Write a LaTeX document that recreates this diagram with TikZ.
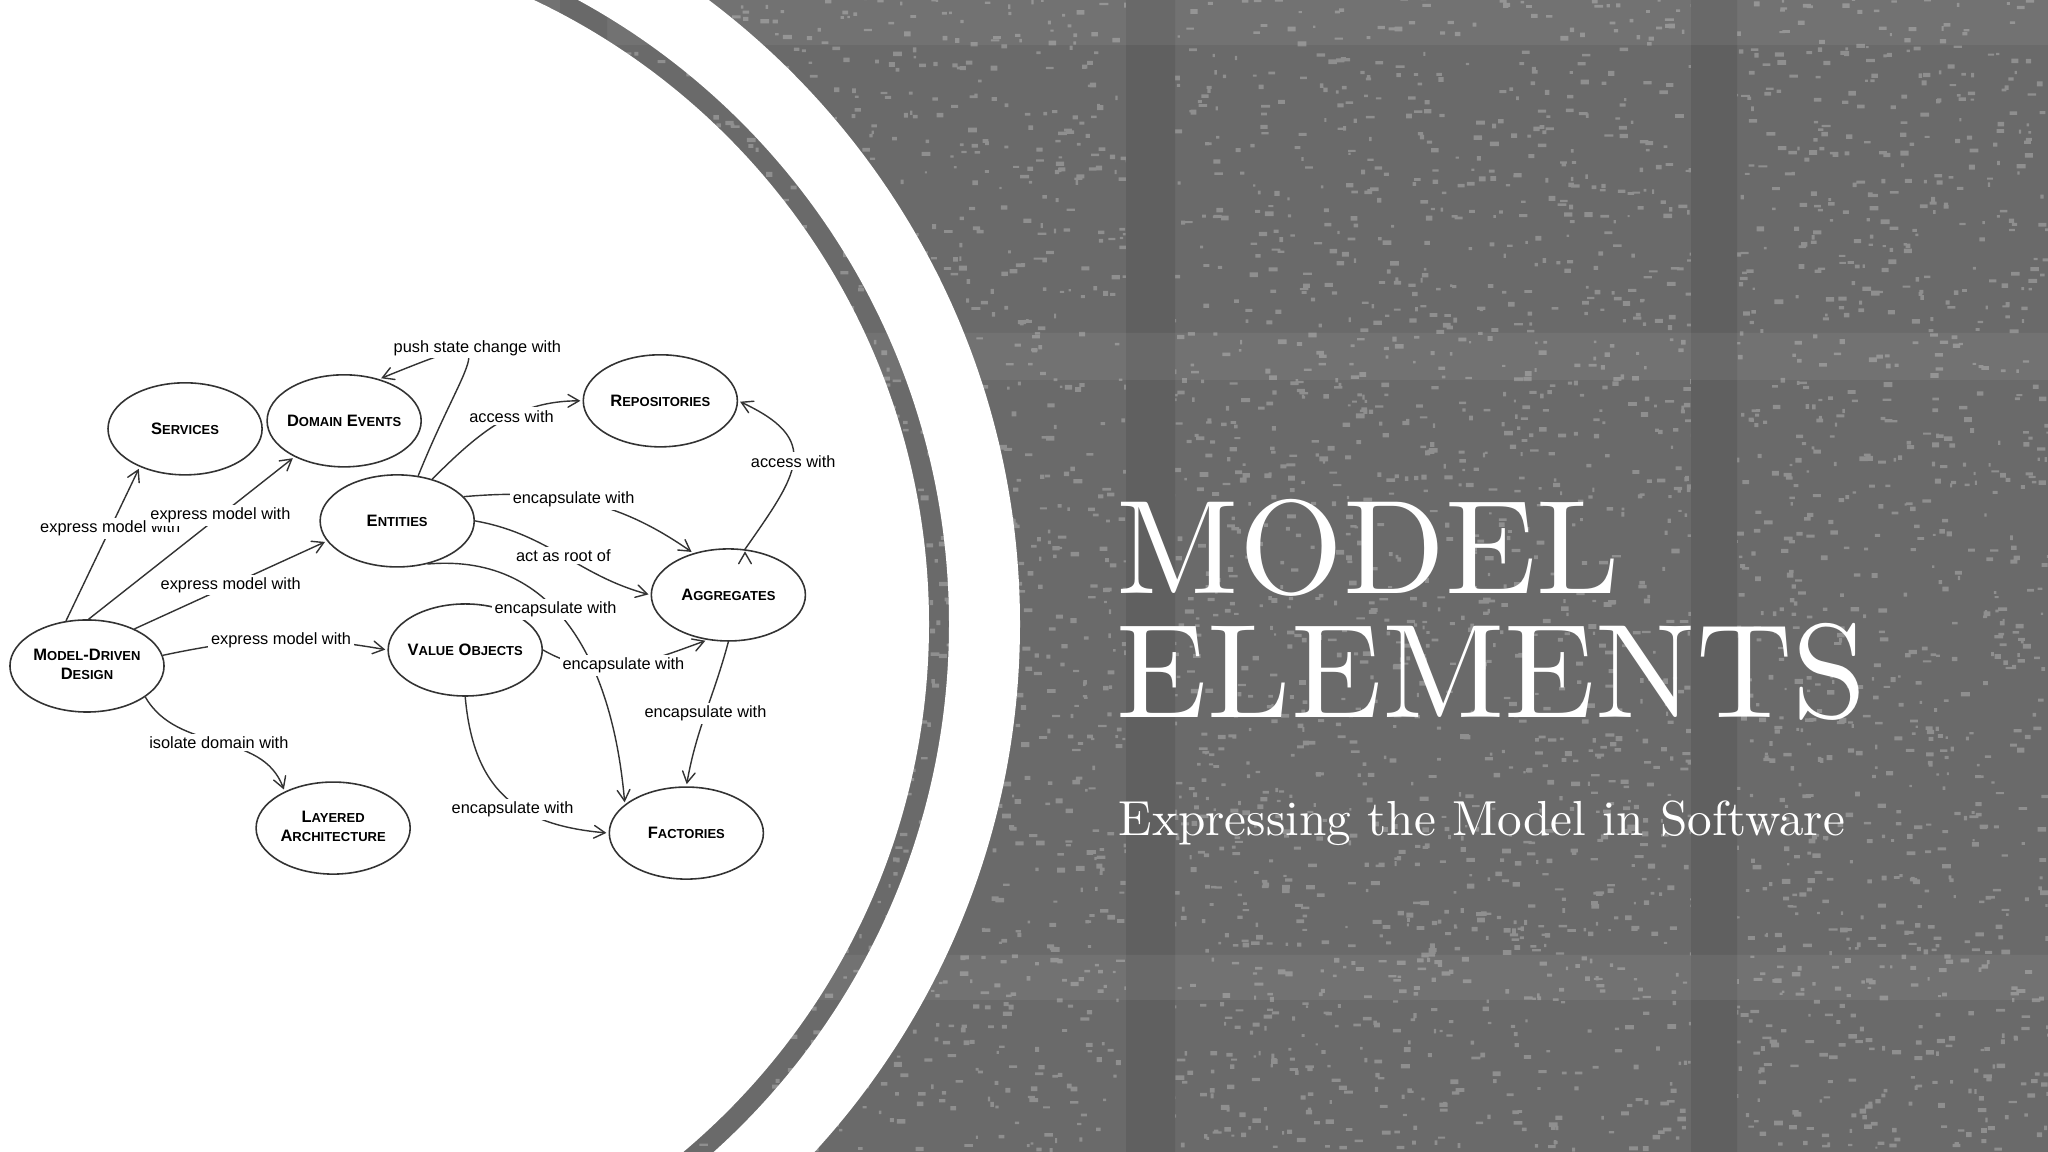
\documentclass[tikz,border=0pt]{standalone}
\usepackage{fontspec}
\usetikzlibrary{arrows,shapes.geometric,positioning}

\newfontfamily\diagfont{Liberation Sans}
\newfontfamily\titlefont{lmroman10-regular}[Extension=.otf]
\definecolor{bggray}{HTML}{6A6A6A}
\definecolor{bandgray}{HTML}{606060}
\definecolor{inkgray}{HTML}{333333}
\newcommand\sco[2]{#1{\fontsize{3.7pt}{4.4pt}\selectfont #2}}
\newcommand\nm[1]{\makebox[0pt]{#1}}

\begin{document}
\begin{tikzpicture}
  [x=0.01cm,y=0.01cm,on grid,>=angle 60,
   elem/.style={ellipse,draw=inkgray,line width=.45pt,minimum width=1.54cm,
     minimum height=.92cm,inner sep=0pt,
     font=\diagfont\bfseries\fontsize{4.7pt}{5.4pt}\selectfont},
   lbl/.style={fill=white,inner sep=.8pt,font=\diagfont\fontsize{4.65pt}{5.5pt}\selectfont},
   link/.style={->,draw=inkgray,line width=.4pt,shorten >=.6pt},
   heading/.style={anchor=base west,inner sep=0pt,text=white}]

  \useasboundingbox (0,0) rectangle (2048,1152);

  % scanned paper backdrop
  \fill[bggray] (0,0) rectangle (2048,1152);
  \pgfmathsetseed{11}
  \fill[white,opacity=.25] \foreach \i in {1,...,6000}
    { ({rnd*2048},{rnd*1152}) rectangle ++({2+rnd*7},{2+rnd*3}) };
  \fill[bandgray] (560,0) rectangle (607,1152) (1126,0) rectangle (1175,1152)
    (1691,0) rectangle (1737,1152);
  \fill[white,opacity=.06] (0,1107) rectangle (2048,1152) (0,772) rectangle (2048,819)
    (0,152) rectangle (2048,197);

  % white disc and ring
  \coordinate (hub) at (239,528);
  \fill[white,even odd rule] (hub) circle (781) (hub) circle (710) (hub) circle (690);

  \node[elem] (mdd) at (87,486) {\nm{\begin{tabular}{@{}c@{}}\sco{M}{ODEL}-\sco{D}{RIVEN}\\\sco{D}{ESIGN}\end{tabular}}};
  \node[elem] (srv) [above right=2.37cm and .98cm of mdd] {\nm{\sco{S}{ERVICES}}};
  \node[elem] (dom) [above right=.08cm and 1.59cm of srv] {\nm{\sco{D}{OMAIN} \sco{E}{VENTS}}};
  \node[elem] (rep) [above right=.2cm and 3.16cm of dom] {\nm{\sco{R}{EPOSITORIES}}};
  \node[elem] (ent) [below right=1cm and .53cm of dom] {\nm{\sco{E}{NTITIES}}};
  \node[elem] (agg) [below right=.74cm and 3.31cm of ent] {\nm{\sco{A}{GGREGATES}}};
  \node[elem] (vo) [above right=.16cm and 3.78cm of mdd] {\nm{\sco{V}{ALUE} \sco{O}{BJECTS}}};
  \node[elem] (lay) [below right=1.62cm and 2.46cm of mdd] {\nm{\begin{tabular}{@{}c@{}}\sco{L}{AYERED}\\\sco{A}{RCHITECTURE}\end{tabular}}};
  \node[elem] (fac) [below right=.05cm and 3.53cm of lay] {\nm{\sco{F}{ACTORIES}}};

  \draw [link]
    (mdd.115) edge node[lbl,pos=.6] (l1) {express model with} (srv.220)
    (mdd.88) edge node[lbl,pos=.64] (l2) {express model with} (dom.216)
    (mdd.38) edge node[lbl,pos=.5] (l3) {express model with} (ent.196)
    (mdd.8) edge[out=12,in=170] node[lbl,pos=.53] (l4) {express model with} (vo.west)
    (mdd.-28) edge[out=-60,in=110] node[lbl,pos=.5] (l5) {isolate domain with} (lay.143)
    (ent.65) edge[out=68,in=22,looseness=3.5] node[lbl,pos=.5,xshift=.09cm,yshift=.1cm] (l6) {push state change with} (dom.50)
    (ent.50) edge[out=45,in=180] node[lbl,pos=.58] (l7) {access with} (rep.west)
    (ent.20) edge[out=5,in=145] node[lbl,pos=.45] (l8) {encapsulate with} (agg.130)
    (ent.east) edge[out=-10,in=165] node[lbl,pos=.5] (l9) {act as root of} (agg.west)
    (ent.-55) edge[out=5,in=95,looseness=1.1] node[lbl,pos=.42] (l10) {encapsulate with} (fac.155)
    (vo.east) edge[out=-30,in=200] node[lbl,pos=.5] (l11) {encapsulate with} (agg.245)
    (agg.south) edge[out=-105,in=80] node[lbl,pos=.5] (l12) {encapsulate with} (fac.north)
    (vo.south) edge[out=-85,in=175,looseness=1.2] node[lbl,pos=.55,yshift=-.07cm] (l13) {encapsulate with} (fac.west)
    (agg.70) edge[out=55,in=-25,looseness=1.6] node[lbl,pos=.5] (l14) {access with} (rep.east);

  \node[heading,font=\titlefont\fontsize{38pt}{38pt}\selectfont] (ttl) at (1116,558) {MODEL};
  \node[heading,font=\titlefont\fontsize{38pt}{38pt}\selectfont] (ttl2) at (1116,434) {ELEMENTS};
  \node[heading,font=\titlefont\fontsize{14pt}{14pt}\selectfont] (sub) at (1118,316) {Expressing the Model in Software};
\end{tikzpicture}
\end{document}
